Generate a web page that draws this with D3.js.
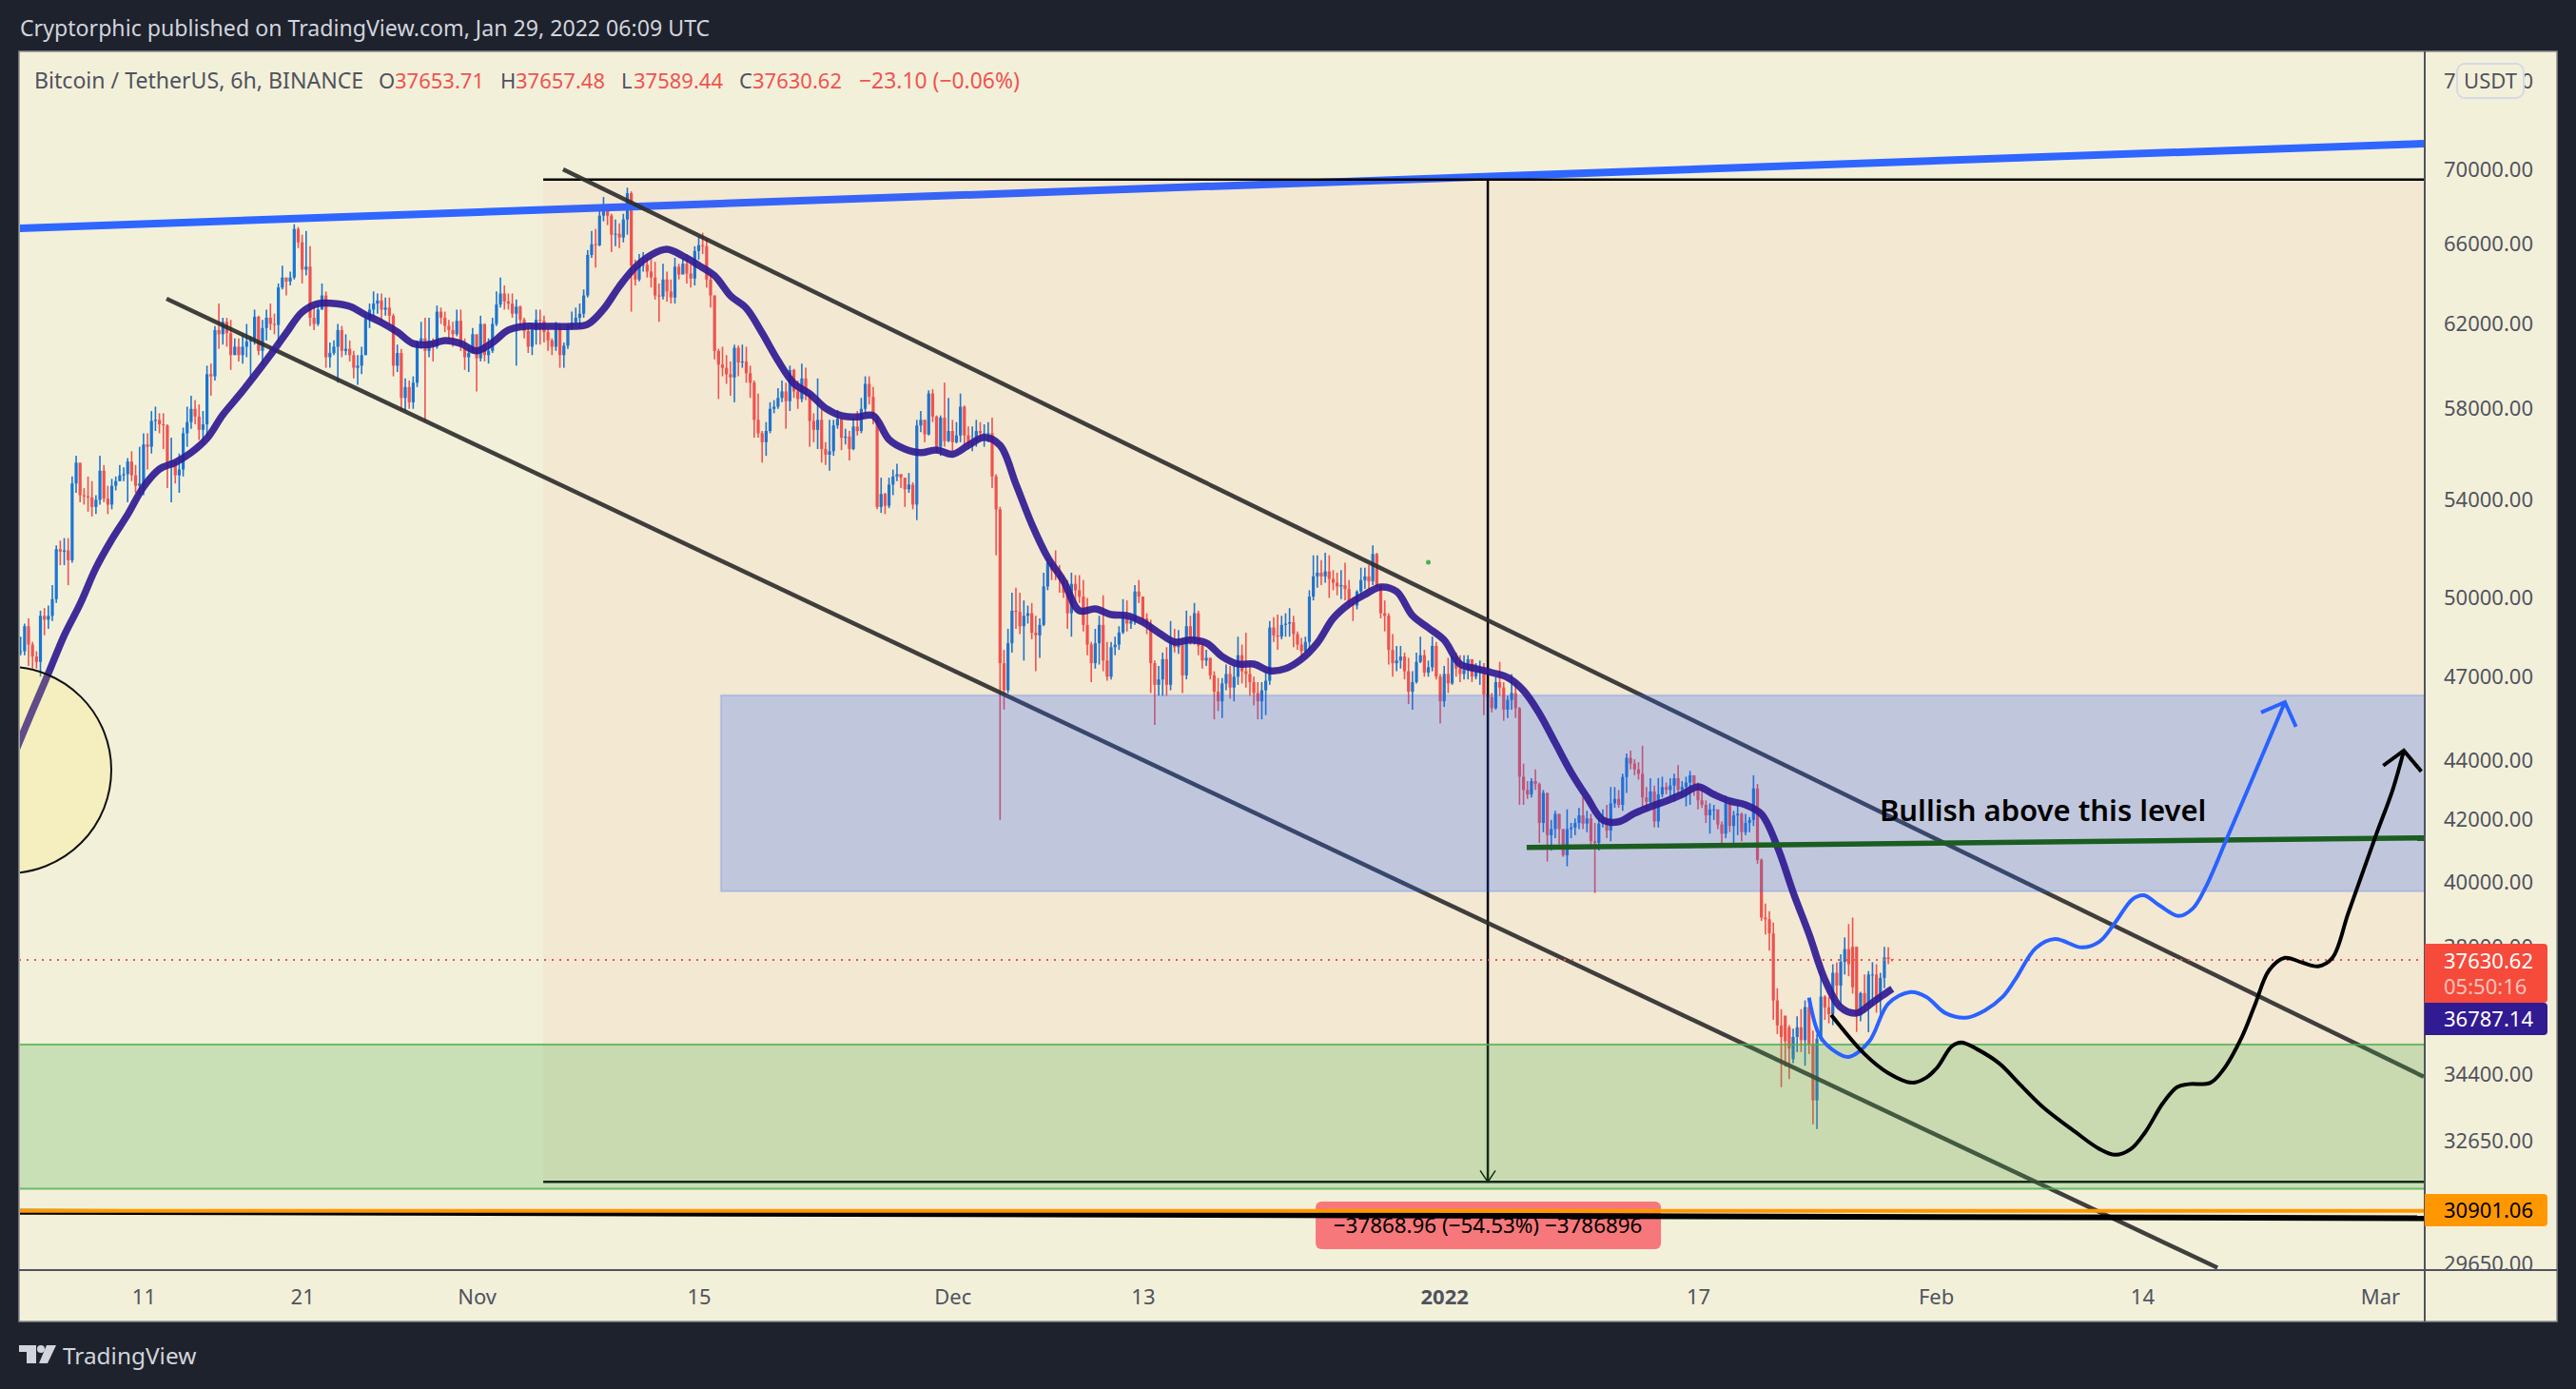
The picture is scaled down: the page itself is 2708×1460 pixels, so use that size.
<!DOCTYPE html>
<html>
<head>
<meta charset="utf-8">
<script src="https://cdn.jsdelivr.net/npm/d3@7"></script>
<style>
  html, body { margin: 0; padding: 0; background: #1e222d; }
  text { font-family: "Noto Sans", sans-serif; }
</style>
</head>
<body>
<svg></svg>
<script>
// 6h candles, one row per day, first bar 2021-10-03 00:00 UTC
let firstBar = Date.UTC(2021, 9, 3)

let opens = [
48300,47950,47950,48900, 48200,47750,47550,49300, 49150,49300,49950,51950, 51850,51900,51500,54700,
55600,54200,54150,54100, 53700,54000,55250,54050, 53800,54600,54800,55050, 55100,55650,55050,54600,
54700,56400,56300,57450, 57500,57300,57250,55600, 55700,55050,55300,56900, 57400,58000,57650,57050,
57300,59600,59500,61700, 61500,62100,61550,60500, 60900,60500,60900,61150, 61200,62350,60700,61800,
62300,62000,61950,63800, 64300,64100,64300,66800, 66100,64700,64850,62300, 62000,62700,63400,60400,
60600,60900,61700,60700, 60800,60500,59900,60000, 60500,62250,62700,63000, 63150,62700,62800,62400,
60000,60600,58500,59000, 58300,59200,61100,61300, 60700,61200,60900,62600, 62300,61900,61700,61500,
62150,60900,60400,60600, 61500,60350,62000,60500, 60700,62000,62950,63500, 63100,63000,62500,62850,
62200,61650,60900,61700, 62200,62150,61600,61200, 60900,61800,60500,60950, 61900,62050,62300,62500,
63400,65450,66000,65950, 67500,67900,67500,66500, 66550,66350,67300,68700, 64900,64200,64900,64950,
64600,64300,63400,63350, 64200,63600,63300,64850, 64450,65000,64500,64250, 65650,65950,65900,64200,
63400,60700,60050,59900, 59600,59450,60850,60150, 60200,59650,59200,57500, 56900,56500,57000,58000,
58100,58500,58800,58350, 59800,58800,58450,59400, 58650,57450,57050,57500, 56200,55950,56100,57250,
57550,56700,56750,56200, 57200,57000,58000,59150, 58550,57650,53700,54250, 53750,54650,55000,55100,
54950,54450,54650,53800, 57250,57500,56850,58700, 57650,56300,57600,56550, 57000,56500,56800,58100,
56800,56450,56550,57000, 56900,56900,56900,55000, 53600,47500,46500,48250, 49500,49450,48900,49300,
49400,48650,48550,48950, 50450,51400,51100,51000, 50750,50200,49400,50550, 50300,50050,48950,48200,
47500,48250,48950,47600, 47000,48100,48200,48660, 49320,49000,49100,50250, 50050,49200,48950,47500,
46700,46900,47650,46700, 48350,48100,48200,47050, 48900,48400,49400,48150, 47600,47700,47050,46450,
46100,46750,47100,46600, 47000,47800,47200,47100, 46800,46400,46100,46500, 46850,48850,48550,48500,
48950,49000,49050,48600, 48200,47950,48300,50050, 50850,51000,50850,51050, 50750,50600,50450,50500,
50350,49800,49700,50250, 50700,50850,50650,51750, 50500,49400,49300,48000, 47500,47600,47750,47200,
46450,46800,47550,47800, 47150,47350,48150,47000, 46100,47100,46750,47750, 47300,47100,47250,47650,
47000,47200,47300,46350, 46250,45850,46800,46600, 45800,46150,46400,45850, 43450,43000,42850,43300,
43200,41900,42900,41500, 41700,42200,41700,40850, 41700,41750,41900,42150, 41880,42050,41300,41250,
41880,42000,41650,42550, 42700,42500,43440,44100, 43900,43700,43550,42750, 42600,42950,41950,42850,
43100,43000,43150,43400, 43000,43100,43250,43500, 43200,42650,42500,42150, 42350,42350,41850,41550,
42550,41800,42150,42200, 41600,41900,42000,43050, 40700,38900,38850,38420, 36450,35740,36020,35690,
34810,35420,35690,35330, 36260,35230,33700,35370, 36560,36250,36060,37250, 36880,37570,37950,38020,
38020,36020,36660,36300, 37200,37200,36500,37100, 37700,37653.71
]

let highs = [
48500,48500,49000,49200, 48300,47950,49500,49600, 49700,50500,52100,52300, 52400,52400,55000,55900,
55500,54500,55000,54800, 54200,55900,55500,54600, 54900,55000,55500,55400, 55800,56100,55500,56300,
56900,56900,57900,58100, 57800,57800,57300,56700, 55700,56000,57150,58100, 58600,58400,58200,57900,
60000,60100,61900,63000, 62300,62300,62200,61300, 61300,61500,62000,61400, 62700,62400,62200,62700,
63000,62500,64000,64900, 64300,64600,67050,66900, 66500,66700,65900,62900, 63000,64000,63600,61100,
61200,62000,61900,61500, 61200,60700,60500,60900, 62500,63000,63600,63500, 63500,63300,63300,62500,
61000,60800,59400,59300, 59500,61200,62100,62300, 62300,61300,62900,62800, 62600,62200,62100,62700,
62700,61300,61000,61800, 61000,62400,62000,61300, 62300,63600,64300,63900, 63500,63500,63200,62900,
62300,61900,62000,62700, 62700,62400,61800,61300, 62100,62000,61100,62000, 62600,62800,63000,63700,
65700,66700,66800,67800, 68500,68100,67600,67300, 67100,67600,69000,68800, 65200,65500,65600,65300,
65300,65100,64000,65000, 64600,64200,65300,65000, 65300,65500,65000,65900, 66400,66600,66300,64600,
63400,60800,60900,60500, 60200,61000,60950,61000, 60900,60000,59300,58700, 57000,57400,58300,58400,
58950,59300,59200,60000, 59850,59300,60100,59900, 58700,57800,59400,58000, 56500,57500,57500,57950,
57600,57100,57000,57600, 57900,58500,59500,59500, 59000,57700,54950,54300, 54950,55300,55550,55100,
54900,55150,54750,57500, 57900,57500,58850,58900, 57700,57700,59200,58500, 57500,57400,58700,58150,
57200,57200,57500,57400, 57300,57400,57600,55100, 53700,48000,48800,50200, 50400,50200,49900,49700,
49800,49300,49200,51000, 51600,51400,51900,51300, 50900,50700,51000,50900, 50900,50700,50000,48300,
48800,49300,50100,48300, 48300,48500,48900,49950, 49900,49300,50500,50700, 50050,49400,49150,47600,
47400,47900,48100,49100, 48800,48750,48400,49500, 49300,49800,49500,48300, 48000,47700,47200,46950,
46950,47450,47400,47400, 48500,48200,48650,47500, 47000,46800,46800,47200, 49100,49250,49350,49300,
49400,49600,49300,48700, 48450,48500,50300,51700, 51700,51500,51800,51700, 51100,51000,51100,51400,
50700,50000,50300,51200, 51200,51300,52100,51800, 50500,49900,49400,48600, 48150,48150,47900,47700,
47200,47900,48500,48000, 47600,48500,48300,47100, 47400,47700,47800,47900, 47800,47800,47800,47350,
47500,47600,47500,46500, 46400,47000,47550,46800, 46300,47100,46800,45900, 43900,43300,43400,43700,
43250,43000,42900,42000, 42300,42200,41700,42350, 41900,42050,42400,42770, 42300,42200,41900,42100,
42350,42500,43100,43100, 43000,43550,44250,44350, 44050,43950,44520,43100, 43400,43150,43400,43450,
43250,43400,43550,43850, 43300,43450,43650,43300, 43250,43100,42650,42550, 42500,42300,41950,42800,
42650,42300,42500,42250, 42200,42100,43500,43200, 40750,39330,39100,38750, 36800,36200,36000,35750,
35650,36000,36200,36450, 36450,35600,35500,37330, 36600,36550,37500,37550, 37800,38300,38700,38900,
36850,36700,37200,37300, 37560,37500,37250,38020, 38000,37657.48
]

let lows = [
47900,47800,47800,47400, 47300,47300,47000,48550, 48800,49100,49800,51300, 51300,50500,51400,54300,
53900,53800,53500,53300, 53400,53800,53900,53400, 53600,54400,54800,54800, 53900,54800,54300,54200,
54200,55300,56000,57000, 56900,56200,54500,53900, 54700,54300,55000,56300, 57100,57300,56600,56400,
56800,58600,59300,60800, 61000,60900,59800,60500, 60200,60100,60400,59400, 61000,60500,60000,61200,
61700,61500,61000,63700, 63400,63900,64200,65800, 64000,64400,61900,61700, 61900,62700,59900,59900,
60500,59200,60400,60500, 60200,59400,59100,59600, 60500,61800,62300,62500, 62100,62400,62000,59500,
59700,57900,57900,58000, 58000,59000,60800,57400, 60400,60200,60800,62000, 61600,61300,60900,61400,
60700,59800,59700,61000, 58800,60200,60200,60100, 60600,61900,62800,62700, 62700,62300,60000,61800,
61300,60600,60500,61000, 61000,61100,60700,60500, 60700,59900,59900,60800, 61700,61900,61800,62300,
63300,65300,64800,65900, 67200,67000,65600,65900, 65800,66100,66500,62600, 63900,64100,64600,64300,
63800,63200,62100,63200, 63100,63000,63000,64200, 64500,64000,63800,63900, 65200,65500,63800,62800,
60300,58450,59500,59150, 58600,58300,59500,59900, 59200,58500,56700,56700, 55600,55900,56900,57800,
58000,58300,57100,57900, 58500,58000,58300,58400, 56300,56500,56200,55600, 55500,55250,55900,57100,
56150,56400,55700,56150, 56800,56900,57800,58200, 57300,53600,53450,53400, 53650,54200,54800,54500,
53700,54300,53600,53150, 56950,56500,56800,57400, 56000,55900,56300,56500, 56100,56450,56500,56350,
56200,56100,56300,56550, 56300,56500,54500,51700, 42000,45800,46400,47900, 48800,48600,47600,49000,
48400,47200,47700,48900, 50300,50700,50700,50200, 50000,48800,48500,49800, 49800,48700,47800,46800,
47300,47450,47200,46850, 46900,47800,48000,48600, 48700,48800,48950,49800, 49000,48600,46400,45250,
46300,46300,46300,46500, 47900,47850,46400,46900, 48200,48200,47800,47300, 47400,46900,45450,45750,
45500,46500,46200,46100, 46700,46750,46600,46300, 45950,45450,45450,45600, 46700,48300,48000,48400,
48500,48500,48100,48000, 47700,47900,48000,49900, 50400,50500,50600,50000, 50300,50100,49950,49900,
49600,49100,49550,50100, 50350,50350,50500,50400, 49200,48700,47450,47000, 47200,47300,46900,46000,
45800,46750,47500,47000, 47000,47200,46900,45300, 45900,46400,46700,47000, 46800,46900,46900,46800,
46900,46700,45600,45700, 45700,45800,46300,45400, 45500,45800,45500,42500, 42500,42700,42750,43000,
41250,41600,40650,41000, 41400,41200,40800,40500, 41400,41500,41700,41700, 41600,41050,39660,41000,
41750,41400,41300,42400, 42400,42300,42900,43700, 43500,43350,42400,42300, 42500,41750,41750,42750,
42850,42750,42600,42800, 42800,42450,42500,42800, 42350,42400,41900,41550, 42000,41700,41150,41400,
41600,41200,41500,41300, 41500,41600,41800,40580, 38800,38390,37900,35900, 35500,34050,34600,34270,
34700,35000,35000,34630, 34950,33070,32950,35300, 35900,35800,35750,36500, 36300,37200,37150,36650,
35560,35860,36100,35550, 36300,36100,36000,36800, 37500,37589.44
]

let closes = [
48200,47950,48900,48200, 47750,47550,49300,49150, 49300,49950,51950,51850, 51900,51500,54700,55600,
54200,54150,54100,53700, 54000,55250,54050,53800, 54600,54800,55050,55100, 55650,55050,54600,54700,
56400,56300,57450,57500, 57300,57250,55600,55700, 55050,55300,56900,57400, 58000,57650,57050,57300,
59600,59500,61700,61500, 62100,61550,60500,60900, 60500,60900,61150,61200, 62350,60700,61800,62300,
62000,61950,63800,64300, 64100,64300,66800,66100, 64700,64850,62300,62000, 62700,63400,60400,60600,
60900,61700,60700,60800, 60500,59900,60000,60500, 62250,62700,63000,63150, 62700,62800,62400,60000,
60600,58500,59000,58300, 59200,61100,61300,60700, 61200,60900,62600,62300, 61900,61700,61500,62150,
60900,60400,60600,61500, 60350,62000,60500,60700, 62000,62950,63500,63100, 63000,62500,62850,62200,
61650,60900,61700,62200, 62150,61600,61200,60900, 61800,60500,60950,61900, 62050,62300,62500,63400,
65450,66000,65950,67500, 67900,67500,66500,66550, 66350,67300,68700,64900, 64200,64900,64950,64600,
64300,63400,63350,64200, 63600,63300,64850,64450, 65000,64500,64250,65650, 65950,65900,64200,63400,
60700,60050,59900,59600, 59450,60850,60150,60200, 59650,59200,57500,56900, 56500,57000,58000,58100,
58500,58800,58350,59800, 58800,58450,59400,58650, 57450,57050,57500,56200, 55950,56100,57250,57550,
56700,56750,56200,57200, 57000,58000,59150,58550, 57650,53700,54250,53750, 54650,55000,55100,54950,
54450,54650,53800,57250, 57500,56850,58700,57650, 56300,57600,56550,57000, 56500,56800,58100,56800,
56450,56550,57000,56900, 56900,56900,55000,53600, 47500,46500,48250,49500, 49450,48900,49300,49400,
48650,48550,48950,50450, 51400,51100,51000,50750, 50200,49400,50550,50300, 50050,48950,48200,47500,
48250,48950,47600,47000, 48100,48200,48660,49320, 49000,49100,50250,50050, 49200,48950,47500,46700,
46900,47650,46700,48350, 48100,48200,47050,48900, 48400,49400,48150,47600, 47700,47050,46450,46100,
46750,47100,46600,47000, 47800,47200,47100,46800, 46400,46100,46500,46850, 48850,48550,48500,48950,
49000,49050,48600,48200, 47950,48300,50050,50850, 51000,50850,51050,50750, 50600,50450,50500,50350,
49800,49700,50250,50700, 50850,50650,51750,50500, 49400,49300,48000,47500, 47600,47750,47200,46450,
46800,47550,47800,47150, 47350,48150,47000,46100, 47100,46750,47750,47300, 47100,47250,47650,47000,
47200,47300,46350,46250, 45850,46800,46600,45800, 46150,46400,45850,43450, 43000,42850,43300,43200,
41900,42900,41500,41700, 42200,41700,40850,41700, 41750,41900,42150,41880, 42050,41300,41250,41880,
42000,41650,42550,42700, 42500,43440,44100,43900, 43700,43550,42750,42600, 42950,41950,42850,43100,
43000,43150,43400,43000, 43100,43250,43500,43200, 42650,42500,42150,42350, 42350,41850,41550,42550,
41800,42150,42200,41600, 41900,42000,43050,40700, 38900,38850,38420,36450, 35740,35420,35300,35100,
35420,35690,35330,36260, 35230,33700,35370,36560, 36250,36060,37250,36880, 37570,37950,37500,36830,
36020,36660,36300,37200, 37200,36500,37100,37700, 37653.71,37630.62
]

// moving average, one value per day at 00:00, last one is the live bar
let maValues = [
44420,45770,47120,48550,49760,51190,52350,53380,54550,55320,
55610,56040,56670,57730,58600,59530,60510,61560,62580,63000,
63000,62860,62440,62070,61610,61050,61000,61190,61050,60700,
61100,61700,61880,61880,61880,61880,61980,62720,63860,64820,
65450,65740,65400,64920,64390,63390,62770,61560,60240,59170,
58690,58030,57690,57630,57690,56620,56200,56040,56160,55970,
56360,56710,56360,54670,52980,51620,50670,49500,49570,49350,
49310,49060,48650,48300,48370,48260,47750,47470,47470,47220,
47300,47650,48260,49200,49760,50130,50430,50250,49310,48840,
48370,47470,47300,47150,46970,46490,45660,44620,43600,42760,
42000,41940,42220,42440,42630,42850,43110,42850,42630,42500,
42190,41130,39680,38400,37050,36250,36090,36390,36710,36787.14
]

let priceTicks = [75000,70000,66000,62000,58000,54000,50000,47000,44000,42000,40000,38000,34400,32650,29650]

let timeTicks = [[2021,9,11],[2021,9,21],[2021,10,1],[2021,10,15],[2021,11,1],[2021,11,13],[2022,0,1],[2022,0,17],[2022,1,1],[2022,1,14],[2022,2,1]]
let timeLabels = ['11','21','Nov','15','Dec','13','2022','17','Feb','14','Mar']

// drawings: [days after first bar, price]
let channelUpper = [[34.45,70000],[151.76,34330]]
let channelLower = [[9.45,63240],[138.75,29550]]
let resistance = [[-1,66800],[151.76,71430]]
let support = [[-1,30880],[151.76,30720]]
let bullishLevel = [[95.2,41100],[151.76,41410]]
let measureTop = 69440, measureBottom = 31610, measureStart = 33.2, measureArrow = 92.75, drawEnd = 160
let blueZone = {start: 44.4, top: 46320, bottom: 39710}
let greenZone = {start: -2, top: 35210, bottom: 31440}
let bluePath = [[113.0,36530],[113.7,35430],[114.7,35000],[115.5,34870],[116.8,35300],[118,36360],[119.4,36690],[120.4,36550],[121.6,36090],[122.9,35960],[124.1,36170],[125.2,36550],[126,37050],[127.3,37980],[128.5,38250],[130.2,38000],[131.3,38170],[132.3,38750],[133.4,39470],[134.1,39590],[135.1,39270],[136.3,38950],[137.2,39180],[138,39830],[139.3,41340],[141.1,43570],[143,46070]]
let blackPath = [[114.4,36040],[116.5,34950],[118,34430],[119.5,34170],[120.4,34310],[121.1,34590],[122,35160],[122.6,35270],[123.6,35080],[125,34690],[126.2,34170],[127.7,33540],[129.8,32870],[131.3,32440],[132.3,32290],[133.3,32440],[134.2,32870],[135.3,33620],[136.2,34050],[136.9,34130],[138.3,34170],[139.1,34510],[140.3,35430],[141.1,36310],[142,37320],[143,37690],[144.1,37550],[145.1,37440],[146,37690],[147,39040],[148.7,41440],[149.8,43010],[150.5,44350]]
let blueHead = [[141.5,45700],[143,46070],[143.7,45190]]
let blackHead = [[149.2,43830],[150.5,44350],[151.6,43630]]
let lastPrice = 37630.62, maLast = 36787.14, supportPrice = 30901.06

let width = 2708, height = 1460
let paneLeft = 20, paneRight = 2549, paneTop = 54, paneBottom = 1335, outerRight = 2688, outerBottom = 1389
let dark = '#1e222d', paper = '#f3f0da', ink = '#50535e', up = '#1976d2', down = '#ef5350'

let x = d3.scaleUtc().domain([new Date(firstBar), new Date(Date.UTC(2022, 2, 1))]).range([17.5, 2502])
let y = d3.scaleLog().domain([29650, 70000]).range([1328, 178])
let at = (d) => new Date(firstBar + d * 864e5)

let bars = closes.map((c, i) => ({t: new Date(firstBar + i * 216e5), o: opens[i], h: highs[i], l: lows[i], c: c}))

let svg = d3.select('svg').attr('width', width).attr('height', height).style('display', 'block')
svg.append('rect').attr('width', width).attr('height', height).attr('fill', dark)

svg.append('rect').attr('x', paneLeft).attr('y', paneTop).attr('width', outerRight - paneLeft).attr('height', outerBottom - paneTop)
    .attr('fill', paper).attr('stroke', '#8b8d8f').attr('stroke-width', 1.5)

let defs = svg.append('defs')
defs.append('clipPath').attr('id', 'pane').append('rect').attr('x', paneLeft + 1).attr('y', paneTop + 1).attr('width', paneRight - paneLeft - 1).attr('height', paneBottom - paneTop - 1)
defs.append('clipPath').attr('id', 'scale').append('rect').attr('x', paneRight).attr('y', paneTop).attr('width', outerRight - paneRight).attr('height', paneBottom - paneTop)

// price scale
let yAxis = d3.axisRight(y).tickValues(priceTicks).tickFormat(d3.format('.2f')).tickSize(0).tickPadding(20)
svg.append('g').attr('clip-path', 'url(#scale)').append('g').attr('transform', 'translate(' + paneRight + ',0)').call(yAxis)
    .call((g) => g.select('.domain').remove())
    .selectAll('text').attr('fill', ink).style('font-size', '22px').style('font-family', '"Noto Sans", sans-serif')

// time scale
let xAxis = d3.axisBottom(x).tickValues(timeTicks.map((d) => new Date(Date.UTC(d[0], d[1], d[2])))).tickFormat((d, i) => timeLabels[i]).tickSize(0).tickPadding(20)
svg.append('g').attr('transform', 'translate(0,' + paneBottom + ')').call(xAxis)
    .call((g) => g.select('.domain').remove())
    .selectAll('text').attr('fill', ink).style('font-size', '22px').style('font-family', '"Noto Sans", sans-serif')
    .style('font-weight', (d, i) => timeLabels[i] == '2022' ? 700 : 400)

let plot = svg.append('g').attr('clip-path', 'url(#pane)')
let line = d3.line().x((d) => x(at(d[0]))).y((d) => y(d[1]))

function stroke(pts, color, w, curve) {
    return plot.append('path').attr('d', line.curve(curve || d3.curveLinear)(pts))
        .attr('fill', 'none').attr('stroke', color).attr('stroke-width', w)
}

// candles
plot.append('g').selectAll('line').data(bars).enter().append('line')
    .attr('x1', (d) => x(d.t)).attr('x2', (d) => x(d.t))
    .attr('y1', (d) => y(d.h)).attr('y2', (d) => y(d.l))
    .attr('stroke', (d) => d.c >= d.o ? up : down).attr('stroke-width', 1.6)
plot.append('g').selectAll('rect').data(bars).enter().append('rect')
    .attr('x', (d) => x(d.t) - 1.6).attr('width', 3.2)
    .attr('y', (d) => y(Math.max(d.o, d.c)))
    .attr('height', (d) => Math.max(1, Math.abs(y(d.o) - y(d.c))))
    .attr('fill', (d) => d.c >= d.o ? up : down)

stroke(resistance, '#2f66ff', 8)

// measure tool
plot.append('rect').attr('x', x(at(measureStart))).attr('width', x(at(drawEnd)) - x(at(measureStart)))
    .attr('y', y(measureTop)).attr('height', y(measureBottom) - y(measureTop))
    .attr('fill', '#f44336').attr('fill-opacity', 0.045)
stroke([[measureStart, measureTop], [drawEnd, measureTop]], '#000', 2.5)
stroke([[measureStart, measureBottom], [drawEnd, measureBottom]], '#000', 2.5)
stroke([[measureArrow, measureTop], [measureArrow, measureBottom]], '#000', 2.5)
let tipX = x(at(measureArrow)), tipY = y(measureBottom)
plot.append('path').attr('d', 'M' + (tipX - 8) + ',' + (tipY - 12) + 'L' + tipX + ',' + tipY + 'L' + (tipX + 8) + ',' + (tipY - 12))
    .attr('fill', 'none').attr('stroke', '#000').attr('stroke-width', 1.5)

stroke(channelUpper, '#2b2b2b', 4.5).attr('stroke-opacity', 0.9)
stroke(channelLower, '#2b2b2b', 4.5).attr('stroke-opacity', 0.9)

// zones sit on top of the candles
plot.append('rect').attr('x', x(at(blueZone.start))).attr('width', x(at(drawEnd)) - x(at(blueZone.start)))
    .attr('y', y(blueZone.top)).attr('height', y(blueZone.bottom) - y(blueZone.top))
    .attr('fill', '#2962ff').attr('fill-opacity', 0.25).attr('stroke', '#2962ff').attr('stroke-opacity', 0.2).attr('stroke-width', 2)
plot.append('rect').attr('x', x(at(greenZone.start))).attr('width', x(at(drawEnd)) - x(at(greenZone.start)))
    .attr('y', y(greenZone.top)).attr('height', y(greenZone.bottom) - y(greenZone.top))
    .attr('fill', '#4caf50').attr('fill-opacity', 0.25).attr('stroke', '#4caf50').attr('stroke-opacity', 0.8).attr('stroke-width', 2)

// measure label
let labelX = x(at(measureArrow))
plot.append('rect').attr('x', labelX - 181).attr('y', 1263).attr('width', 363).attr('height', 50).attr('rx', 6).attr('fill', '#f6787a')
plot.append('text').attr('x', labelX).attr('y', 1296).attr('text-anchor', 'middle').attr('fill', '#000')
    .style('font-size', '22.4px').text('\u221237868.96 (\u221254.53%) \u22123786896')

stroke(support, '#000', 6)
plot.append('line').attr('x1', paneLeft).attr('x2', paneRight).attr('y1', y(supportPrice)).attr('y2', y(supportPrice)).attr('stroke', '#ff9800').attr('stroke-width', 4)

// last price line
plot.append('line').attr('x1', paneLeft).attr('x2', paneRight).attr('y1', y(lastPrice)).attr('y2', y(lastPrice))
    .attr('stroke', down).attr('stroke-width', 2).attr('stroke-dasharray', '2 6')

// moving average
let maPts = maValues.map((v, i) => [i < 119 ? i : 118.25, v])
stroke(maPts, '#311b92', 7.5, d3.curveCatmullRom).attr('stroke-opacity', 0.92).attr('stroke-linejoin', 'round')

// circle at the left edge, tints the average under it
plot.append('circle').attr('cx', 8.5).attr('cy', y(43680)).attr('r', 108.5)
    .attr('fill', '#ffeb3b').attr('fill-opacity', 0.17).attr('stroke', '#111').attr('stroke-width', 2)

stroke(bullishLevel, '#1b5e20', 5.5)
stroke(bluePath, '#2962ff', 4, d3.curveCatmullRom)
stroke(blackPath, '#000', 4, d3.curveCatmullRom)
stroke(blueHead, '#2962ff', 4)
stroke(blackHead, '#000', 4)

plot.append('circle').attr('cx', x(at(89))).attr('cy', y(51420)).attr('r', 2.5).attr('fill', '#4caf50')

plot.append('text').attr('x', x(at(117.45))).attr('y', y(41950)).attr('fill', '#000')
    .style('font-size', '31px').style('font-weight', 600).text('Bullish above this level')

// frame lines
svg.append('line').attr('x1', paneRight).attr('x2', paneRight).attr('y1', paneTop).attr('y2', outerBottom).attr('stroke', ink).attr('stroke-width', 2)
svg.append('line').attr('x1', paneLeft).attr('x2', outerRight).attr('y1', paneBottom).attr('y2', paneBottom).attr('stroke', ink).attr('stroke-width', 2)

// price tags
function tag(y0, y1, fill) {
    svg.append('path').attr('fill', fill)
        .attr('d', 'M' + paneRight + ',' + y0 + 'H2674q4,0 4,4V' + (y1 - 4) + 'q0,4 -4,4H' + paneRight + 'Z')
}
function tagText(cy, str, color) {
    svg.append('text').attr('x', 2569).attr('y', cy).attr('dy', '0.36em').attr('fill', color).style('font-size', '22px').text(str)
}
tag(992, 1054, '#f64a3b')
tagText(1010, d3.format('.2f')(lastPrice), '#fff')
tagText(1037, '05:50:16', '#fbc2bc')
tag(1054, 1088, '#311b92')
tagText(1071, d3.format('.2f')(maLast), '#fff')
tag(1255, 1289, '#ff9800')
tagText(1272, d3.format('.2f')(supportPrice), '#000')

svg.append('rect').attr('x', 2583).attr('y', 67).attr('width', 70).attr('height', 36).attr('rx', 8)
    .attr('fill', paper).attr('stroke', '#d6d9e4').attr('stroke-width', 2)
svg.append('text').attr('x', 2618).attr('y', 85).attr('dy', '0.36em').attr('text-anchor', 'middle').attr('fill', ink).style('font-size', '22px').text('USDT')

// header and legend
svg.append('text').attr('x', 21).attr('y', 30).attr('dy', '0.36em').attr('fill', '#d1d4dc').style('font-size', '23.15px')
    .text('Cryptorphic published on TradingView.com, Jan 29, 2022 06:09 UTC')

let legend = [
    [36, 'Bitcoin / TetherUS, 6h, BINANCE', ink, 23.1], [398, 'O', ink, 22], [415, '37653.71', down, 22], [526, 'H', ink, 22], [542, '37657.48', down, 22],
    [653, 'L', ink, 22], [666, '37589.44', down, 22], [777, 'C', ink, 22], [791, '37630.62', down, 22], [903, '\u221223.10 (\u22120.06%)', down, 22.9]
]
svg.append('g').selectAll('text').data(legend).enter().append('text')
    .attr('x', (d) => d[0]).attr('y', 85).attr('dy', '0.36em').attr('fill', (d) => d[2]).style('font-size', (d) => d[3] + 'px').text((d) => d[1])

// TradingView mark
svg.append('path').attr('fill', '#d1d4dc').attr('d', 'M20,1414H38V1433H28V1421H20ZM49,1414H59L50,1433H41Z')
svg.append('circle').attr('cx', 43).attr('cy', 1418).attr('r', 4).attr('fill', '#d1d4dc')
svg.append('text').attr('x', 66).attr('y', 1425).attr('dy', '0.36em').attr('fill', '#d1d4dc').style('font-size', '24.4px').text('TradingView')
</script>
</body>
</html>
